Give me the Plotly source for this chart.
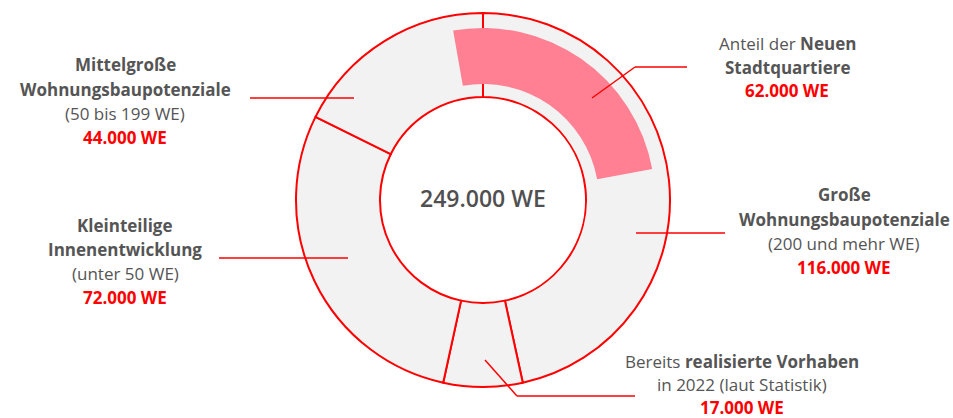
import plotly.graph_objects as go

# data
categories = [
    "Große Wohnungsbaupotenziale",
    "Bereits realisierte Vorhaben",
    "Kleinteilige Innenentwicklung",
    "Mittelgroße Wohnungsbaupotenziale",
]
values = [116000, 17000, 72000, 44000]
neue_label = "Anteil der Neuen Stadtquartiere"
neue_value = 62000
total = sum(values)

W, H = 953, 418
RED = "#ff0000"
PINK = "#ff8093"
GREY = "#f2f2f2"
TXT = "#555555"
FONT = "Open Sans"


def we(v):
    return f"{v:,}".replace(",", ".") + " WE"


def px(x, y):
    return x / W, 1 - y / H


cx, cy = 483, 200
r_out, r_in = 187, 103
p_out, p_in = 172, 116


def dom(r):
    return dict(x=[(cx - r) / W, (cx + r) / W], y=[1 - (cy + r) / H, 1 - (cy - r) / H])


fig = go.Figure()
fig.add_trace(go.Pie(
    labels=categories, values=values, sort=False, direction="clockwise", rotation=0,
    hole=r_in / r_out, domain=dom(r_out), textinfo="none", hoverinfo="skip",
    marker=dict(colors=[GREY] * len(values), line=dict(color=RED, width=2)),
    showlegend=False,
))
fig.add_trace(go.Pie(
    labels=[neue_label, "Rest"], values=[neue_value, total - neue_value], sort=False,
    direction="clockwise", rotation=-10, hole=p_in / p_out, domain=dom(p_out),
    textinfo="none", hoverinfo="skip",
    marker=dict(colors=[PINK, "rgba(0,0,0,0)"], line=dict(width=0)),
    showlegend=False,
))

annotations = []


def label(x, y0, lines, value, size=17, step=24):
    y = y0
    for ln in lines:
        annotations.append(dict(x=px(x, y)[0], y=px(x, y)[1], xref="paper", yref="paper",
                                text=ln, showarrow=False, xanchor="center", yanchor="middle",
                                font=dict(family=FONT, size=size, color=TXT)))
        y += step
    annotations.append(dict(x=px(x, y)[0], y=px(x, y)[1], xref="paper", yref="paper",
                            text=f"<b>{we(value)}</b>", showarrow=False, xanchor="center",
                            yanchor="middle", font=dict(family=FONT, size=size, color=RED)))


label(125, 65, ["<b>Mittelgroße</b>", "<b>Wohnungsbaupotenziale</b>", "(50 bis 199 WE)"], values[3])
label(125, 225, ["<b>Kleinteilige</b>", "<b>Innenentwicklung</b>", "(unter 50 WE)"], values[2])
label(787, 43, ["Anteil der <b>Neuen</b>", "<b>Stadtquartiere</b>"], neue_value)
label(844, 195, ["<b>Große</b>", "<b>Wohnungsbaupotenziale</b>", "(200 und mehr WE)"], values[0])
label(742, 361, ["Bereits <b>realisierte Vorhaben</b>", "in 2022 (laut Statistik)"], values[1], step=23)

annotations.append(dict(x=px(cx, 198)[0], y=px(cx, 198)[1], xref="paper", yref="paper",
                        text=we(total), showarrow=False, xanchor="center", yanchor="middle",
                        font=dict(family=FONT, size=23, color="#505050", weight=600)))

# leader lines
leaders = [
    [(250, 98), (354, 98)],
    [(219, 258), (348, 258)],
    [(636, 233), (725, 233)],
    [(592, 98), (635, 67), (687, 67)],
    [(485, 360), (517, 396), (635, 396)],
]
shapes = []
for pts in leaders:
    for (x0, y0), (x1, y1) in zip(pts[:-1], pts[1:]):
        a, b = px(x0, y0)
        c, d = px(x1, y1)
        shapes.append(dict(type="line", xref="paper", yref="paper", x0=a, y0=b, x1=c, y1=d,
                           line=dict(color=RED, width=1.5)))

fig.update_layout(
    width=W, height=H, margin=dict(l=0, r=0, t=0, b=0),
    paper_bgcolor="white", plot_bgcolor="white",
    annotations=annotations, shapes=shapes,
)
fig.write_html("out.html", config={"displayModeBar": False},
               post_script="document.body.style.margin='0';")
